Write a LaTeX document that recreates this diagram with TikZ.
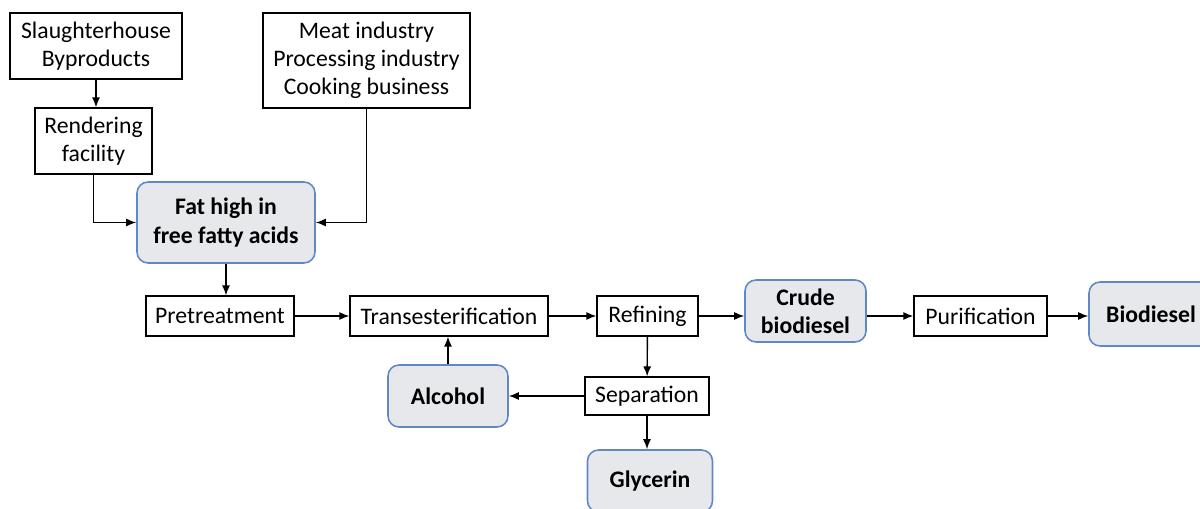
\documentclass[tikz,border=0pt]{standalone}
\usepackage{fontspec}
\setmainfont{Carlito}
\usetikzlibrary{arrows.meta}

\definecolor{keyfill}{RGB}{231,232,236}
\definecolor{keyline}{RGB}{96,136,196}

\newcommand{\boxsize}{\fontsize{13.5}{16}\selectfont}

\tikzset{
    stepbox/.style = {draw, line width = 0.7pt, align = center, inner sep = 0pt},
    keybox/.style = {draw = keyline, fill = keyfill, line width = 0.9pt,
        rounded corners = 2.2mm, align = center, inner sep = 0pt,
        font = \boxsize\bfseries},
    flow/.style = {-{Latex[length = 2mm, width = 1.6mm]}, line width = 0.8pt}
}

\begin{document}
\begin{tikzpicture}[x = 0.02cm, y = -0.02cm, font = \boxsize]
        \useasboundingbox (0, 0) rectangle (1200, 509);

        % sources
        \node [stepbox, minimum width = 3.44cm, minimum height = 1.32cm]
            (slaughter) at (96, 46) {Slaughterhouse\\Byproducts};
        \node [stepbox, minimum width = 2.34cm, minimum height = 1.32cm]
            (render) at (93.5, 141) {Rendering\\facility};
        \node [stepbox, minimum width = 4.14cm, minimum height = 1.9cm]
            (meat) at (366.5, 60.5) {Meat industry\\Processing industry\\Cooking business};
        \node [keybox, minimum width = 3.56cm, minimum height = 1.62cm]
            (fat) at (226, 222.5) {Fat high in\\free fatty acids};

        % main line
        \node [stepbox, minimum width = 2.96cm, minimum height = 0.8cm]
            (pretreat) at (220, 316) {Pretreatment};
        \node [stepbox, minimum width = 3.96cm, minimum height = 0.8cm]
            (trans) at (449, 316) {Transesterification};
        \node [stepbox, minimum width = 2.02cm, minimum height = 0.8cm]
            (refine) at (647.5, 316) {Refining};
        \node [keybox, minimum width = 2.42cm, minimum height = 1.24cm]
            (crude) at (805.5, 311) {Crude\\biodiesel};
        \node [stepbox, minimum width = 2.66cm, minimum height = 0.8cm]
            (purify) at (980.5, 316) {Purification};
        \node [keybox, minimum width = 2.48cm, minimum height = 1.28cm]
            (biodiesel) at (1151, 314) {Biodiesel};

        % by-products
        \node [stepbox, minimum width = 2.48cm, minimum height = 0.76cm]
            (separate) at (647, 396) {Separation};
        \node [keybox, minimum width = 2.4cm, minimum height = 1.24cm]
            (alcohol) at (448, 396) {Alcohol};
        \node [keybox, minimum width = 2.5cm, minimum height = 1.24cm]
            (glycerin) at (650, 481) {Glycerin};

        \draw [flow] (slaughter) -- (slaughter |- render.north);
        \draw [flow] (render.south) |- (fat.west);
        \draw [flow] (meat.south) |- (fat.east);
        \draw [flow] (fat.south) -- (fat.south |- pretreat.north);

        \draw [flow] (pretreat) -- (trans);
        \draw [flow] (trans) -- (refine);
        \draw [flow] (refine) -- (refine -| crude.west);
        \draw [flow] (purify -| crude.east) -- (purify);
        \draw [flow] (purify) -- (purify -| biodiesel.west);

        \draw [flow] (refine) -- (separate);
        \draw [flow] (separate) -- (alcohol);
        \draw [flow] (alcohol) -- (alcohol |- trans.south);
        \draw [flow] (separate.south) -- (separate.south |- glycerin.north);
    \end{tikzpicture}
\end{document}
